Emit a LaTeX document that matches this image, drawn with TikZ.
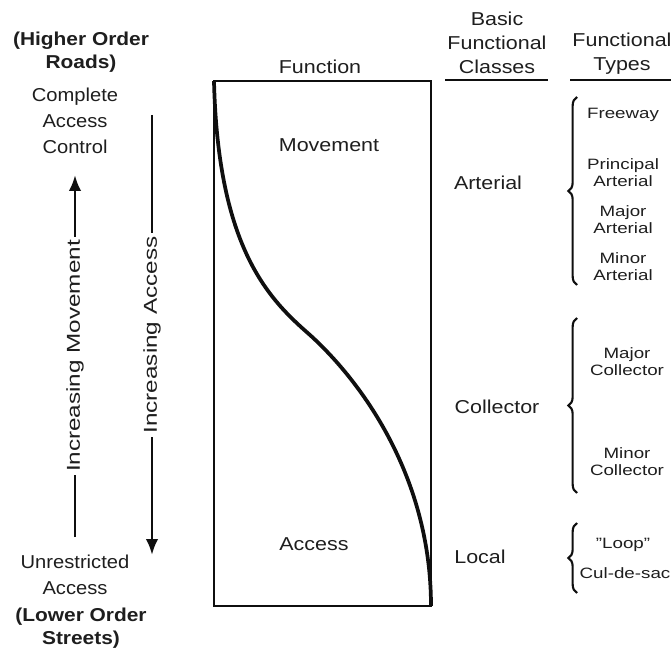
\documentclass[tikz,border=0pt]{standalone}
\usepackage{fontspec}
\setmainfont{Liberation Sans}
\usepackage{tikz}
\usetikzlibrary{arrows.meta,decorations.pathreplacing,positioning}
\definecolor{myink}{RGB}{30,30,30}
\definecolor{myline}{RGB}{15,15,15}

\begin{document}
\begin{tikzpicture}[x=0.75pt, y=-0.75pt,
        every node/.style={text=myink, align=center, inner sep=0pt},
        lbl/.style={font=\fontsize{14}{18}\selectfont, xscale=1.15},
        lft/.style={font=\fontsize{14}{19.5}\selectfont, xscale=1.08},
        hdr/.style={font=\bfseries\fontsize{14}{17.25}\selectfont, xscale=1.12},
        typ/.style={font=\fontsize{11.25}{12.75}\selectfont, xscale=1.25},
        vlbl/.style={font=\fontsize{14}{18}\selectfont, rotate=90, xscale=1.3, fill=white, inner xsep=2pt},
        arr/.style={draw=myline, line width=2.2pt, -{Latex[length=12pt, width=9.5pt]}},
        brc/.style={draw=myline, line width=1.6pt, decorate, decoration={brace, amplitude=6.5pt}}]
    \useasboundingbox (0,0) rectangle (671,648);

    % left column
    \node[hdr] (hiord) at (81,52) {(Higher Order\\Roads)};
    \node[lft] (ctrl) at (75,121) {Complete\\Access\\Control};
    \node[lft] (unres) at (75,575) {Unrestricted\\Access};
    \node[hdr] (loord) at (81,628) {(Lower Order\\Streets)};

    \coordinate (mvbot) at (75,537);
    \coordinate (mvtop) at (75,175);
    \coordinate (actop) at (152,115);
    \coordinate (acbot) at (152,555);
    \draw[arr] (mvbot) -- node[vlbl] {Increasing Movement} (mvtop);
    \draw[arr] (actop) -- node[vlbl] {Increasing Access} (acbot);

    % function box
    \coordinate (boxtl) at (214,81);
    \coordinate (boxbr) at (431,606);
    \draw[myline, line width=1.9pt] (boxtl) rectangle (boxbr);
    \draw[myline, line width=2.8pt] (boxtl) .. controls (218,250) and (270,300) .. (310,335)
        .. controls (365,385) and (431,480) .. (boxbr);
    \node[lbl] (func) at (320,67) {Function};
    \node[lbl] (mov) at (329,145) {Movement};
    \node[lbl] (acc) at (314,544) {Access};

    % classes
    \node[lbl] (bfc) at (497,43) {Basic\\Functional\\Classes};
    \node[lbl] (ftyp) at (622,54) {Functional\\Types};
    \draw[myline, line width=1.6pt] (445,80) -- (548,80);
    \draw[myline, line width=1.6pt] (570,80) -- (671,80);
    \node[lbl] (art) at (488,183) {Arterial};
    \node[lbl] (col) at (497,407) {Collector};
    \node[lbl] (loc) at (480,557) {Local};

    % types
    \draw[brc] (577,285) -- (577,97);
    \draw[brc] (577,493) -- (577,318);
    \draw[brc] (577,593) -- (577,523);
    \node[typ] (fwy) at (623,115) {Freeway};
    \node[typ] (part) at (623,173) {Principal\\Arterial};
    \node[typ] (mjart) at (623,220) {Major\\Arterial};
    \node[typ] (mnart) at (623,267) {Minor\\Arterial};
    \node[typ] (mjcol) at (627,362) {Major\\Collector};
    \node[typ] (mncol) at (627,462) {Minor\\Collector};
    \node[typ] (loop) at (623,545) {"Loop"};
    \node[typ] (cds) at (625,573) {Cul-de-sac};
\end{tikzpicture}
\end{document}
